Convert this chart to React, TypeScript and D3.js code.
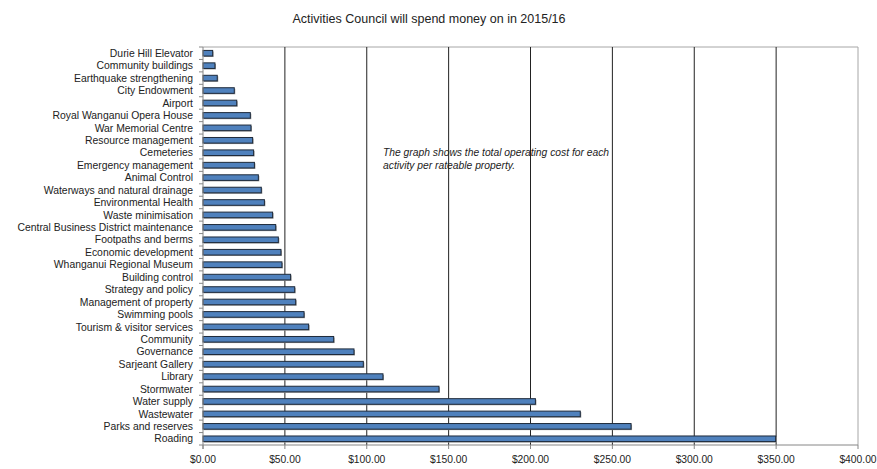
import React from "react";
import * as d3 from "d3";

const categories = [
  "Durie Hill Elevator",
  "Community buildings",
  "Earthquake strengthening",
  "City Endowment",
  "Airport",
  "Royal Wanganui Opera House",
  "War Memorial Centre",
  "Resource management",
  "Cemeteries",
  "Emergency management",
  "Animal Control",
  "Waterways and natural drainage",
  "Environmental Health",
  "Waste minimisation",
  "Central Business District maintenance",
  "Footpaths and berms",
  "Economic development",
  "Whanganui Regional Museum",
  "Building control",
  "Strategy and policy",
  "Management of property",
  "Swimming pools",
  "Tourism & visitor services",
  "Community",
  "Governance",
  "Sarjeant Gallery",
  "Library",
  "Stormwater",
  "Water supply",
  "Wastewater",
  "Parks and reserves",
  "Roading",
];

const values = [
  5.9, 7.3, 8.7, 19.1, 20.6, 28.9, 29.3, 30.3, 30.9, 31.4, 33.8, 35.6, 37.5,
  42.5, 44.4, 46.0, 47.6, 48.2, 53.5, 56.0, 56.6, 61.7, 64.5, 79.8, 92.2, 97.9,
  109.9, 144.1, 203.0, 230.4, 261.4, 349.7,
];

const xTicks = [0, 50, 100, 150, 200, 250, 300, 350, 400];

const title = "Activities Council will spend money on in 2015/16";
const noteLines = [
  "The graph shows the total operating cost for each",
  "activity per rateable property.",
];

const W = 877;
const H = 469;
const left = 203;
const right = 858;
const top = 47;
const bottom = 445;
const FONT = "'Liberation Sans', Arial, sans-serif";

export default function App() {
  const x = d3.scaleLinear().domain([0, 400]).range([left, right]);
  const y = d3
    .scaleBand<string>()
    .domain(categories)
    .range([top, bottom])
    .paddingInner(0.55)
    .paddingOuter(0.275);
  const step = (bottom - top) / categories.length;
  const bh = y.bandwidth();
  const fmt = (v: number) => "$" + d3.format(".2f")(v);

  return (
    <svg
      width={W}
      height={H}
      style={{ position: "absolute", left: 0, top: 0, background: "#fff" }}
      fontFamily={FONT}
    >
      <text x={429} y={23} textAnchor="middle" fontSize={12.5} fill="#222">
        {title}
      </text>
      {/* plot border top and right */}
      <line x1={left} x2={right} y1={top} y2={top} stroke="#a6a6a6" />
      <line x1={right} x2={right} y1={top} y2={bottom} stroke="#a6a6a6" />
      {/* gridlines */}
      {xTicks
        .filter((t) => t > 0 && t < 400)
        .map((t) => (
          <line
            key={"g" + t}
            x1={x(t)}
            x2={x(t)}
            y1={top}
            y2={bottom}
            stroke="#222"
            strokeWidth={1}
          />
        ))}
      {/* bars */}
      {categories.map((c, i) => (
        <g key={c}>
          <rect
            x={x(0) + 1}
            y={(y(c) as number) + 1}
            width={x(values[i]) - x(0)}
            height={bh}
            fill="#9a9a9a"
          />
          <rect
            x={x(0)}
            y={y(c) as number}
            width={x(values[i]) - x(0)}
            height={bh}
            fill="#4f81bd"
            stroke="#1e2a3a"
            strokeWidth={1}
          />
        </g>
      ))}
      {/* axes */}
      <line x1={left} x2={left} y1={top} y2={bottom + 4} stroke="#868686" />
      <line x1={left} x2={right} y1={bottom} y2={bottom} stroke="#868686" />
      {d3.range(categories.length + 1).map((i) => (
        <line
          key={"yt" + i}
          x1={left - 4}
          x2={left}
          y1={top + i * step}
          y2={top + i * step}
          stroke="#868686"
        />
      ))}
      {xTicks.map((t) => (
        <line
          key={"xt" + t}
          x1={x(t)}
          x2={x(t)}
          y1={bottom}
          y2={bottom + 4}
          stroke="#868686"
        />
      ))}
      {xTicks.map((t) => (
        <text
          key={"xl" + t}
          x={x(t)}
          y={463}
          textAnchor="middle"
          fontSize={10.3}
          fill="#222"
        >
          {fmt(t)}
        </text>
      ))}
      {categories.map((c) => (
        <text
          key={"yl" + c}
          x={193}
          y={(y(c) as number) + bh / 2 + 3.7}
          textAnchor="end"
          fontSize={10.4}
          fill="#222"
        >
          {c}
        </text>
      ))}
      {noteLines.map((l, i) => (
        <text
          key={"n" + i}
          x={383}
          y={155.5 + i * 13.5}
          fontSize={10.3}
          fontStyle="italic"
          fill="#222"
        >
          {l}
        </text>
      ))}
    </svg>
  );
}
